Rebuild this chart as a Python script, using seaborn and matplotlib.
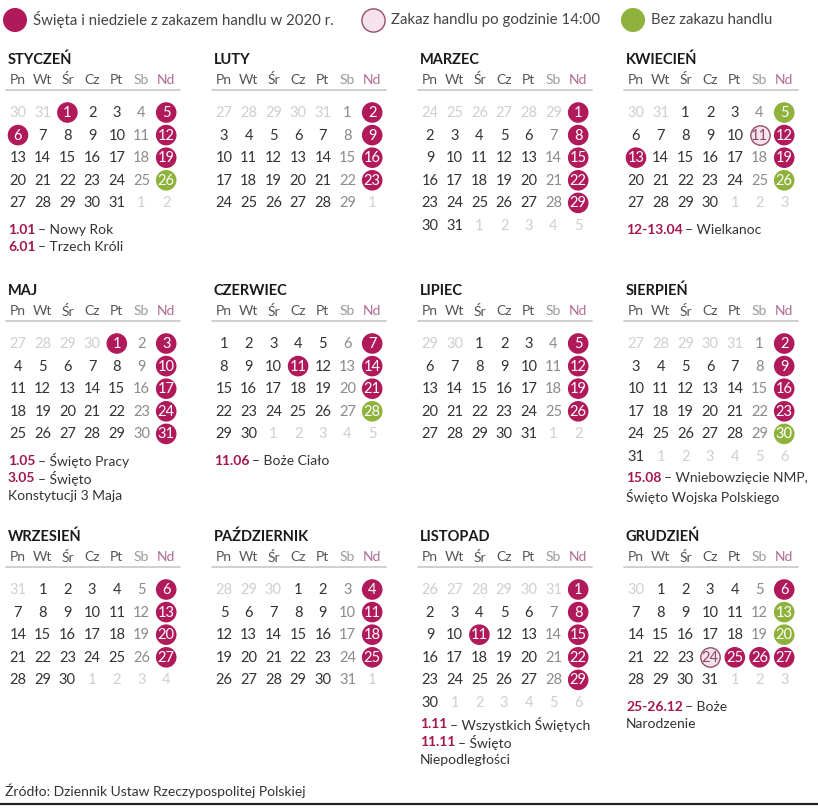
import calendar
import numpy as np
import pandas as pd
import matplotlib.pyplot as plt
import seaborn as sns

YEAR = 2020
month_names = ['STYCZEŃ', 'LUTY', 'MARZEC', 'KWIECIEŃ', 'MAJ', 'CZERWIEC',
               'LIPIEC', 'SIERPIEŃ', 'WRZESIEŃ', 'PAŹDZIERNIK', 'LISTOPAD', 'GRUDZIEŃ']
weekday_labels = ['Pn', 'Wt', 'Śr', 'Cz', 'Pt', 'Sb', 'Nd']

# holidays and Sundays with trading ban
ban_days = {1: [1, 5, 6, 12, 19], 2: [2, 9, 16, 23], 3: [1, 8, 15, 22, 29],
            4: [12, 13, 19], 5: [1, 3, 10, 17, 24, 31], 6: [7, 11, 14, 21],
            7: [5, 12, 19, 26], 8: [2, 9, 16, 23], 9: [6, 13, 20, 27],
            10: [4, 11, 18, 25], 11: [1, 8, 11, 15, 22, 29], 12: [6, 25, 26, 27]}
# ban after 14:00
half_days = {4: [11], 12: [24]}
# trading Sundays
open_days = {1: [26], 4: [5, 26], 6: [28], 8: [30], 12: [13, 20]}

legend_labels = ['Święta i niedziele z zakazem handlu w 2020 r.',
                 'Zakaz handlu po godzinie 14:00',
                 'Bez zakazu handlu']

notes = {
    1: [('1.01', '– Nowy Rok'), ('6.01', '– Trzech Króli')],
    4: [('12-13.04', '– Wielkanoc')],
    5: [('1.05', '– Święto Pracy'), ('3.05', '– Święto'), ('', 'Konstytucji 3 Maja')],
    6: [('11.06', '– Boże Ciało')],
    8: [('15.08', '– Wniebowzięcie NMP,'), ('', 'Święto Wojska Polskiego')],
    11: [('1.11', '– Wszystkich Świętych'), ('11.11', '– Święto'), ('', 'Niepodległości')],
    12: [('25-26.12', '– Boże'), ('', 'Narodzenie')],
}
source_text = 'Źródło: Dziennik Ustaw Rzeczypospolitej Polskiej'

MAGENTA = '#b01a5b'
GREEN = '#8fb23c'
PINK_FILL = '#f6e2ea'
PINK_EDGE = '#93506c'
NOTE_COL = '#a3174f'

sns.set_theme(style='white')
plt.rcParams['font.family'] = ['Lato', 'DejaVu Sans']

fig = plt.figure(figsize=(8.18, 8.11), dpi=100)
ax = fig.add_axes([0, 0, 1, 1])
ax.set_xlim(0, 818)
ax.set_ylim(811, 0)
ax.axis('off')

block_x = [6, 212, 418, 624]
block_y = [60, 291, 537]
col_dx = 24.7
row_dy = 22.6

cal = calendar.Calendar(0)
rows = []
for m in range(1, 13):
    bx = block_x[(m - 1) % 4]
    by = block_y[(m - 1) // 4]
    weeks = cal.monthdatescalendar(YEAR, m)
    for r, week in enumerate(weeks):
        for c, d in enumerate(week):
            kind = 'plain'
            if d.month == m:
                if d.day in ban_days.get(m, []):
                    kind = 'ban'
                elif d.day in half_days.get(m, []):
                    kind = 'half'
                elif d.day in open_days.get(m, []):
                    kind = 'open'
            rows.append(dict(month=m, day=d.day, inmonth=d.month == m, col=c, kind=kind,
                             x=bx + 12 + c * col_dx, y=by + 52.5 + r * row_dy))
df = pd.DataFrame(rows)

# circles
marks = df[df['kind'] != 'plain']
sns.scatterplot(data=marks[marks['kind'] == 'ban'], x='x', y='y', color=MAGENTA,
                s=220, edgecolor='none', ax=ax, zorder=2)
sns.scatterplot(data=marks[marks['kind'] == 'open'], x='x', y='y', color=GREEN,
                s=220, edgecolor='none', ax=ax, zorder=2)
sns.scatterplot(data=marks[marks['kind'] == 'half'], x='x', y='y', color=PINK_FILL,
                s=195, edgecolor=PINK_EDGE, linewidth=1.0, ax=ax, zorder=2)

# day numbers
for _, row in df.iterrows():
    if not row['inmonth']:
        col = '#cfcfcf'
    elif row['kind'] in ('ban', 'open'):
        col = 'white'
    elif row['kind'] == 'half':
        col = '#8c4a66'
    elif row['col'] == 5:
        col = '#8a8a8a'
    else:
        col = '#333333'
    ax.text(row['x'], row['y'] + 0.5, str(row['day']), ha='center', va='center',
            fontsize=10.5, color=col, zorder=3)

# month headers and notes
renderer = fig.canvas.get_renderer()
inv = ax.transData.inverted()
for m in range(1, 13):
    bx = block_x[(m - 1) % 4]
    by = block_y[(m - 1) // 4]
    ax.text(bx + 2, by, month_names[m - 1], ha='left', va='center',
            fontsize=10.5, fontweight='bold', color='#1a1a1a')
    for c, wd in enumerate(weekday_labels):
        col = '#555555'
        if c == 5:
            col = '#9a9a9a'
        if c == 6:
            col = '#b06a92'
        ax.text(bx + 12 + c * col_dx, by + 20, wd, ha='center', va='center',
                fontsize=10, color=col)
    ax.plot([bx, bx + 174], [by + 30, by + 30], color='#cccccc', lw=1.3)

    nrows = len(df[df['month'] == m]) // 7
    last_y = df[df['month'] == m]['y'].max()
    ny = last_y + (27 if nrows == 5 else 22)
    for bold, rest in notes.get(m, []):
        x0 = bx + 2
        if bold:
            t = ax.text(x0, ny, bold, ha='left', va='center', fontsize=10,
                        fontweight='bold', color=NOTE_COL)
            bb = t.get_window_extent(renderer=renderer)
            x0 = inv.transform((bb.x1, bb.y0))[0] + 2.5
        ax.text(x0, ny, rest, ha='left', va='center', fontsize=10, color='#333333')
        ny += 17.5

# legend
leg_x = [15, 373, 633]
leg_df = pd.DataFrame({'x': leg_x, 'y': [20, 20, 20]})
sns.scatterplot(data=leg_df.iloc[[0]], x='x', y='y', color=MAGENTA, s=300,
                edgecolor='none', ax=ax)
sns.scatterplot(data=leg_df.iloc[[1]], x='x', y='y', color=PINK_FILL, s=280,
                edgecolor=PINK_EDGE, linewidth=1.0, ax=ax)
sns.scatterplot(data=leg_df.iloc[[2]], x='x', y='y', color=GREEN, s=300,
                edgecolor='none', ax=ax)
for lx, lab in zip(leg_x, legend_labels):
    ax.text(lx + 18, 20, lab, ha='left', va='center', fontsize=10.8, color='#444444')

# source and bottom rule
ax.text(5, 791, source_text, ha='left', va='center', fontsize=10, color='#333333')
ax.plot([0, 818], [804, 804], color='#222222', lw=1.6)

fig.savefig('out.png', dpi=100)
